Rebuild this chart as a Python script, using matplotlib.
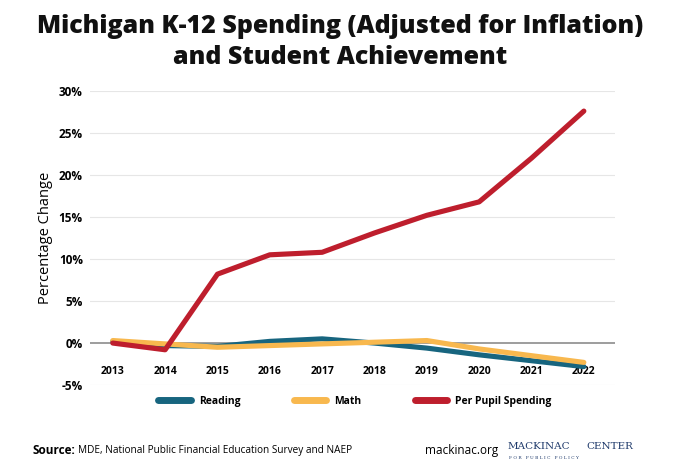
import matplotlib.pyplot as plt
from matplotlib.lines import Line2D

# data (% change since 2013)
years = [2013, 2014, 2015, 2016, 2017, 2018, 2019, 2020, 2021, 2022]
reading = [0.2, -0.3, -0.4, 0.2, 0.5, 0.0, -0.6, -1.4, -2.1, -2.8]
math_scores = [0.3, -0.1, -0.5, -0.3, -0.1, 0.1, 0.3, -0.7, -1.5, -2.3]
spending = [0.0, -0.8, 8.2, 10.5, 10.8, 13.1, 15.2, 16.8, 22.0, 27.6]
y_ticks = [-5, 0, 5, 10, 15, 20, 25, 30]

c_read = '#17657f'
c_math = '#f8b84e'
c_spend = '#be1e2d'

plt.rcParams['font.family'] = ['Open Sans', 'DejaVu Sans']

fig = plt.figure(figsize=(6.8, 4.76), dpi=100)
ax = fig.add_axes([0.132, 0.191, 0.772, 0.618])

# gridlines
for t in y_ticks:
    if t == 0:
        ax.axhline(t, color='#8c8c8c', lw=1.2, zorder=1)
    else:
        ax.axhline(t, color='#e6e6e6', lw=0.8, zorder=1)

lw = 3.7
ax.plot(years, reading, color=c_read, lw=lw, solid_capstyle='round', solid_joinstyle='round', zorder=3)
ax.plot(years, math_scores, color=c_math, lw=lw, solid_capstyle='round', solid_joinstyle='round', zorder=4)
ax.plot(years, spending, color=c_spend, lw=lw, solid_capstyle='round', solid_joinstyle='round', zorder=5)

ax.set_xlim(2012.56, 2022.59)
ax.set_ylim(-5, 30)
ax.set_yticks(y_ticks)
ax.set_yticklabels([f'{t}%' for t in y_ticks], fontweight='bold', fontsize=8.5)
ax.set_xticks(years)
ax.set_xticklabels([str(y) for y in years], fontweight='bold', fontsize=7.5)
ax.tick_params(axis='x', length=0, pad=-14)
ax.tick_params(axis='y', length=0, pad=5)
for s in ax.spines.values():
    s.set_visible(False)
ax.set_ylabel('Percentage Change', fontsize=10.5, labelpad=4)

# legend
handles = [Line2D([], [], color=c, lw=5, solid_capstyle='round') for c in (c_read, c_math, c_spend)]
leg = fig.legend(handles, ['Reading', 'Math', 'Per Pupil Spending'], loc='center',
                 bbox_to_anchor=(0.522, 0.157), ncol=3, frameon=False,
                 handlelength=3.1, columnspacing=5.1, handletextpad=0.8,
                 prop={'weight': 'bold', 'size': 7.5})

fig.text(0.5, 0.945, 'Michigan K-12 Spending (Adjusted for Inflation)', ha='center', va='center',
         fontsize=18, fontweight='heavy', color='#111111')
fig.text(0.5, 0.879, 'and Student Achievement', ha='center', va='center',
         fontsize=18, fontweight='heavy', color='#111111')

# footer
fig.text(0.048, 0.053, 'Source:', fontsize=8.5, fontweight='bold', va='center')
fig.text(0.114, 0.053, 'MDE, National Public Financial Education Survey and NAEP', fontsize=7.2, va='center')
fig.text(0.625, 0.053, 'mackinac.org', fontsize=8.5, va='center')
fig.text(0.747, 0.062, 'MACKINAC', fontsize=7.5, family='DejaVu Serif', color='#1f3a6b', va='center')
fig.text(0.862, 0.062, 'CENTER', fontsize=7.5, family='DejaVu Serif', color='#1f3a6b', va='center')
fig.text(0.748, 0.038, 'F O R   P U B L I C   P O L I C Y', fontsize=3.2, family='DejaVu Serif', color='#1f3a6b', va='center')

fig.savefig('out.png', dpi=100)
